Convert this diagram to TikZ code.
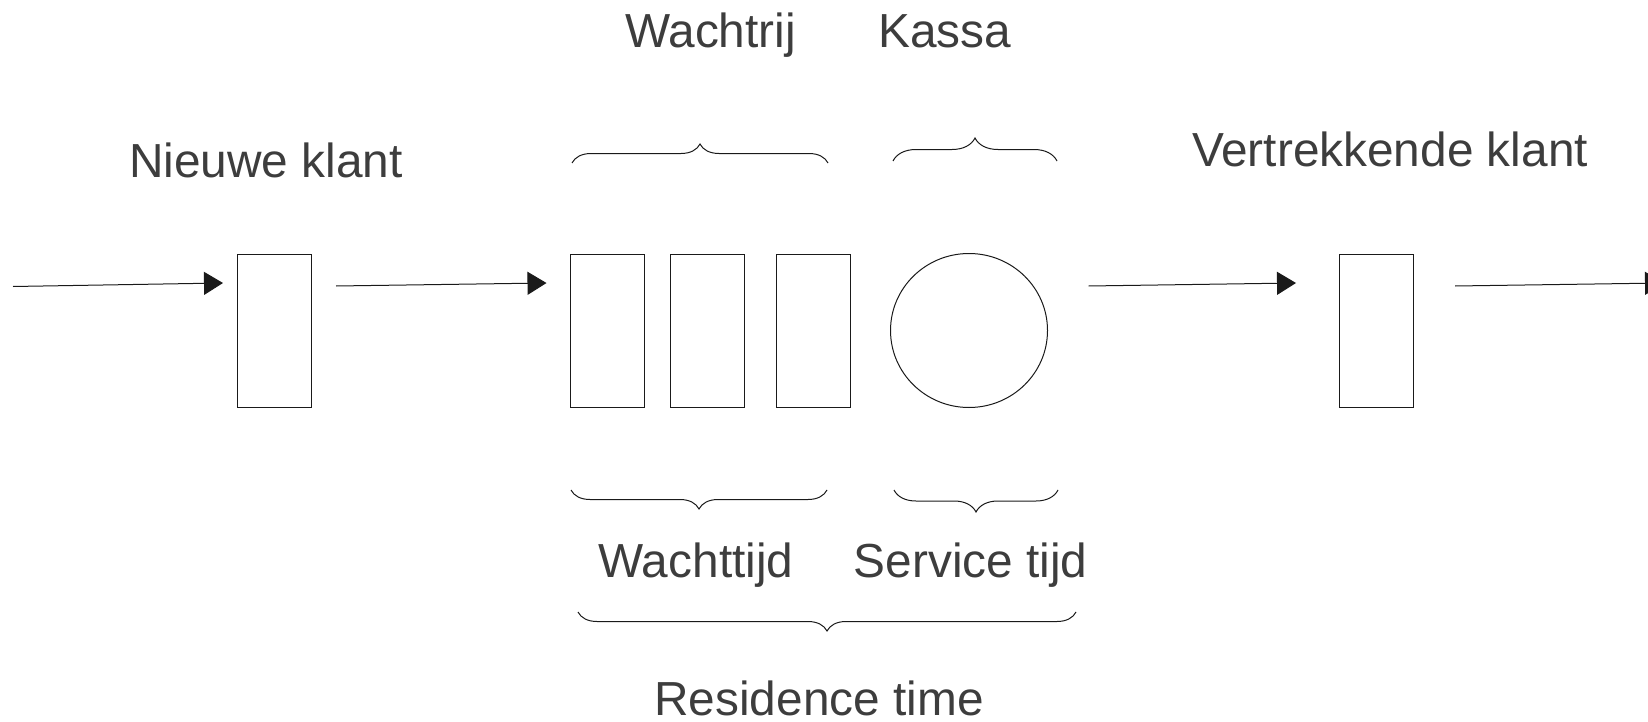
\documentclass[tikz,border=0pt]{standalone}
\usepackage{fontspec}
\setmainfont{Liberation Sans}
\usepackage{xcolor}
\definecolor{labelGray}{HTML}{3D3D3D}
\definecolor{lineBlack}{HTML}{1A1A1A}
\usepackage{tikz}
\usetikzlibrary{
    shapes.geometric,
    arrows.meta,
    decorations.pathreplacing,
    positioning,
    calc
}
\tikzset{
    % Base style for all labels
    label text/.style={
        font=\fontsize{23.9}{28}\selectfont,
        text=labelGray,
        anchor=base,
        inner sep=0pt,
    },
    % Customer / queue place - tall thin rectangle
    slot/.style={
        rectangle,
        draw=lineBlack,
        line width=0.5pt,
        minimum width=37pt,
        minimum height=76.5pt,
        inner sep=0pt,
        outer sep=0pt,
    },
    % Cash desk - plain circle
    desk/.style={
        ellipse,
        draw=lineBlack,
        line width=0.5pt,
        minimum width=78.5pt,
        minimum height=77pt,
        inner sep=0pt,
        outer sep=0pt,
    },
    % Flow arrow - thin line, filled triangle tip
    flow/.style={
        -{Triangle[length=9.5pt, width=11.5pt]},
        line width=0.5pt,
        draw=lineBlack,
    },
    % Curly brace over or under a group
    group brace/.style={
        decorate,
        decoration={brace, amplitude=#1},
        line width=0.5pt,
        draw=lineBlack,
    },
    group brace/.default=9.5pt,
}

\begin{document}
\begin{tikzpicture}[x=0.5pt, y=-0.5pt]
    \useasboundingbox (0,0) rectangle (1648,722);

    % customers, queue and desk
    \node (nieuw) [slot] at (274,330.5) {};
    \node (q1) [slot] at (607.5,330.5) {};
    \node (q2) [slot, right=12.8pt of q1] {};
    \node (q3) [slot, right=16.2pt of q2] {};
    \node (kassa) [desk, right=20pt of q3] {};
    \node (vertrek) [slot] at (1376,330.5) {};

    \coordinate (in) at (13,286.5);
    \coordinate (out) at (1664,283);

    \draw [flow] (in) -- ([shift={(-14,29)}]nieuw.north west);
    \draw [flow] ([shift={(25,32)}]nieuw.north east) -- ([shift={(-24,29)}]q1.north west);
    \draw [flow] ([shift={(41,-44.5)}]kassa.east) -- ([shift={(-43,29)}]vertrek.north west);
    \draw [flow] ([shift={(42,32)}]vertrek.north east) -- (out);

    % braces
    \draw [group brace] (572,163) -- (828,163);
    \draw [group brace=11.5pt] (893,161) -- (1057,161);
    \draw [group brace] (827,490) -- (571,490);
    \draw [group brace=11pt] (1058,490) -- (894,490);
    \draw [group brace] (1076,612) -- (578,612);

    % labels
    \node (tNieuw) [label text] at (266,177) {Nieuwe klant};
    \node (tVertrek) [label text] at (1390,166) {Vertrekkende klant};
    \node (tRij) [label text] at (710.5,48) {Wachtrij};
    \node (tKassa) [label text] at (944.7,48) {Kassa};
    \node (tWacht) [label text] at (696,577) {Wachttijd};
    \node (tService) [label text] at (970.7,577) {Service tijd};
    \node (tResidence) [label text] at (819,715) {Residence time};
\end{tikzpicture}
\end{document}
